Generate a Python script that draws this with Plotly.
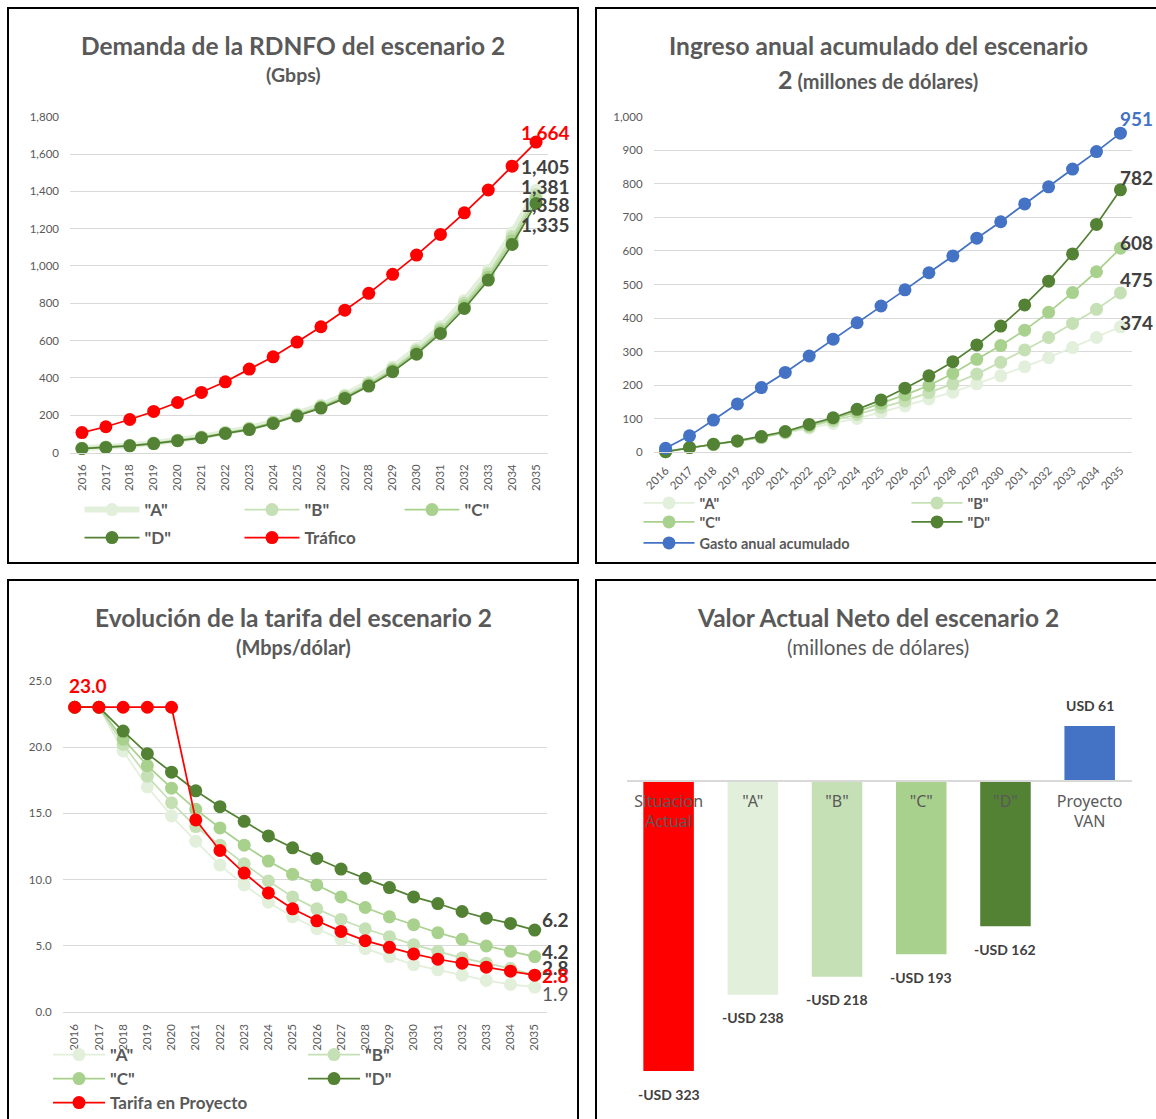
import plotly.graph_objects as go

W, H = 1156, 1119


def px(x):
    return x / W


def py(y):
    return 1 - y / H


# ---------------- data ----------------
years = [str(y) for y in range(2016, 2036)]

# Demanda de la RDNFO (Gbps)
dem_A = [23, 29, 38, 51, 66, 84, 108, 131, 165, 207, 253, 308, 377, 458, 557, 674, 815, 975, 1176, 1405]
dem_B = [22, 28, 38, 50, 65, 82, 106, 128, 162, 203, 248, 302, 370, 449, 547, 662, 801, 958, 1155, 1381]
dem_C = [22, 28, 37, 49, 64, 81, 104, 126, 159, 199, 243, 296, 363, 441, 537, 650, 786, 941, 1135, 1358]
dem_D = [21, 27, 36, 48, 63, 79, 102, 123, 156, 195, 238, 290, 356, 433, 527, 638, 772, 924, 1115, 1335]
trafico = [107, 138, 177, 220, 268, 322, 379, 447, 513, 592, 674, 763, 853, 955, 1058, 1169, 1285, 1407, 1535, 1664]

# Ingreso anual acumulado (millones de dólares)
ing_A = [2, 14, 23, 33, 44, 57, 72, 86, 101, 119, 138, 159, 179, 204, 228, 255, 282, 312, 342, 374]
ing_B = [2, 14, 23, 33, 44, 59, 76, 94, 113, 134, 153, 178, 204, 233, 268, 305, 342, 384, 426, 475]
ing_C = [2, 14, 24, 34, 45, 60, 79, 99, 121, 146, 171, 199, 235, 277, 318, 364, 417, 476, 538, 608]
ing_D = [2, 14, 24, 34, 47, 62, 83, 103, 128, 156, 191, 228, 270, 320, 376, 439, 510, 591, 679, 782]
gasto = [12, 49, 96, 144, 193, 238, 287, 337, 386, 436, 484, 535, 585, 638, 687, 740, 791, 844, 896, 951]

# Evolución de la tarifa (Mbps/dólar)
tar_A = [23.0, 23.0, 19.7, 17.0, 14.8, 12.9, 11.1, 9.6, 8.3, 7.2, 6.3, 5.5, 4.8, 4.2, 3.6, 3.2, 2.8, 2.4, 2.1, 1.9]
tar_B = [23.0, 23.0, 20.2, 17.8, 15.8, 14.0, 12.6, 11.2, 9.9, 8.7, 7.8, 7.0, 6.3, 5.7, 5.1, 4.6, 4.1, 3.7, 3.3, 2.8]
tar_C = [23.0, 23.0, 20.6, 18.6, 16.9, 15.3, 13.9, 12.6, 11.4, 10.4, 9.6, 8.7, 7.9, 7.2, 6.6, 6.0, 5.5, 5.0, 4.6, 4.2]
tar_D = [23.0, 23.0, 21.2, 19.5, 18.1, 16.7, 15.5, 14.4, 13.3, 12.4, 11.6, 10.8, 10.1, 9.4, 8.7, 8.2, 7.6, 7.1, 6.7, 6.2]
tarifa = [23.0, 23.0, 23.0, 23.0, 23.0, 14.5, 12.2, 10.5, 9.0, 7.8, 6.9, 6.1, 5.4, 4.9, 4.4, 4.0, 3.7, 3.4, 3.1, 2.8]

# Valor Actual Neto (millones de dólares)
van_cats = ["Situacion<br>Actual", '"A"', '"B"', '"C"', '"D"', "Proyecto<br>VAN"]
van_vals = [-323, -238, -218, -193, -162, 61]

# ---------------- styles ----------------
FONT = "Lato"
GREY = "#595959"
DARK = "#404040"
GRID = "#D9D9D9"
C_A, C_B, C_C, C_D = "#E2EFDA", "#C5E0B4", "#A9D18E", "#548235"
RED, BLUE = "#FF0000", "#4472C4"
MS = 13
LW = 1.75

fig = go.Figure()


def line(x, y, name, color, xa, ya, legend, width=LW, mcolor=None):
    fig.add_trace(go.Scatter(
        x=x, y=y, name=name, mode="lines+markers",
        line=dict(color=color, width=width),
        marker=dict(size=MS, color=mcolor or color),
        xaxis=xa, yaxis=ya, legend=legend, cliponaxis=False,
        hoverinfo="x+y+name",
    ))


# Panel 1 — demanda
line(years, dem_A, '"A"', C_A, "x", "y", "legend", width=6, mcolor=C_A)
line(years, dem_B, '"B"', C_B, "x", "y", "legend")
line(years, dem_C, '"C"', C_C, "x", "y", "legend")
line(years, dem_D, '"D"', C_D, "x", "y", "legend2")
line(years, trafico, "Tráfico", RED, "x", "y", "legend2")

# Panel 2 — ingreso
line(years, ing_A, '"A"', C_A, "x2", "y2", "legend3")
line(years, ing_B, '"B"', C_B, "x2", "y2", "legend3")
line(years, ing_C, '"C"', C_C, "x2", "y2", "legend4")
line(years, ing_D, '"D"', C_D, "x2", "y2", "legend4")
line(years, gasto, "Gasto anual acumulado", BLUE, "x2", "y2", "legend5")

# Panel 3 — tarifa
line(years, tar_A, '"A"', C_A, "x3", "y3", "legend6")
line(years, tar_B, '"B"', C_B, "x3", "y3", "legend6")
line(years, tar_C, '"C"', C_C, "x3", "y3", "legend7")
line(years, tar_D, '"D"', C_D, "x3", "y3", "legend7")
line(years, tarifa, "Tarifa en Proyecto", RED, "x3", "y3", "legend8")

# Panel 4 — VAN bars
fig.add_trace(go.Bar(
    x=van_cats, y=van_vals, width=0.6,
    marker=dict(color=[RED, C_A, C_B, C_C, C_D, BLUE], line=dict(width=0)),
    xaxis="x4", yaxis="y4", showlegend=False,
    hoverinfo="x+y",
))

# ---------------- axes ----------------
tickfont = dict(family=FONT, size=11.5, color=GREY)


def cat_x(domain, angle):
    return dict(
        domain=domain, type="category", range=[-0.5, 19.5],
        showgrid=False, showline=True, linecolor=GRID, linewidth=1.3,
        ticks="", tickangle=angle, tickfont=tickfont, ticklabelstandoff=6,
        zeroline=False, fixedrange=True,
    )


def val_y(domain, rng, dtick, fmt):
    return dict(
        domain=domain, range=rng, dtick=dtick, tickformat=fmt,
        showgrid=True, gridcolor=GRID, gridwidth=1.3, zeroline=False,
        showline=False, ticks="", tickfont=tickfont, ticklabelstandoff=10,
        fixedrange=True,
    )


fig.update_layout(
    xaxis=dict(cat_x([px(70), px(548)], -90), anchor="y"),
    yaxis=dict(val_y([py(452.5), py(116.7)], [0, 1800], 200, ","), anchor="x"),
    xaxis2=dict(cat_x([px(653.6), px(1132.4)], -45), anchor="y2"),
    yaxis2=dict(val_y([py(452.3), py(116.7)], [0, 1000], 100, ","), anchor="x2"),
    xaxis3=dict(cat_x([px(62.6), px(546.8)], -90), anchor="y3"),
    yaxis3=dict(val_y([py(1012.3), py(680.7)], [0, 25], 5, ".1f"), anchor="x3"),
    xaxis4=dict(
        domain=[px(626.5), px(1131.8)], type="category", anchor="free",
        position=py(780.7), showgrid=False, showline=True, linecolor=GRID,
        linewidth=1.5, ticks="", ticklabelstandoff=6,
        tickfont=dict(family="Noto Sans", size=16, color=GREY), fixedrange=True,
    ),
    yaxis4=dict(
        domain=[py(1100), py(700)], range=[-355.2, 89.8], visible=False,
        showgrid=False, zeroline=False, anchor="x4", fixedrange=True,
    ),
)

# ---------------- legends ----------------
def legend_at(x_left, y_mid, size, itemwidth, entrywidth):
    return dict(
        orientation="h", x=px(x_left), y=py(y_mid), xanchor="left", yanchor="middle",
        bgcolor="rgba(0,0,0,0)", itemwidth=itemwidth, entrywidth=entrywidth,
        entrywidthmode="pixels",
        font=dict(family=FONT, size=size, color=GREY, weight="bold"),
        itemclick=False, itemdoubleclick=False,
    )


fig.update_layout(
    legend=legend_at(79.5, 510, 17, 55, 90),
    legend2=legend_at(79.5, 538, 17, 55, 90),
    legend3=legend_at(638.5, 503, 14.5, 51, 202),
    legend4=legend_at(638.5, 522, 14.5, 51, 202),
    legend5=legend_at(638.5, 543, 14.5, 51, 202),
    legend6=legend_at(48, 1055, 17, 52, 188),
    legend7=legend_at(48, 1079, 17, 52, 188),
    legend8=legend_at(48, 1103, 17, 52, 188),
)

# ---------------- titles ----------------
annotations = []


def title(text, x, y, size, bold=True):
    annotations.append(dict(
        text=text, x=px(x), y=py(y), xref="paper", yref="paper",
        xanchor="center", yanchor="middle", showarrow=False,
        font=dict(family=FONT, size=size, color=GREY, weight="bold" if bold else "normal"),
    ))


title("Demanda de la RDNFO del escenario 2", 293, 45, 24.5)
title("(Gbps)", 293, 74, 19.5)
title("Ingreso anual acumulado del escenario", 878, 45, 24.5)
title('<span style="font-size:25px">2</span> (millones de dólares)', 878, 79, 20)
title("Evolución de la tarifa del escenario 2", 293, 617, 24.5)
title("(Mbps/dólar)", 293, 647, 20)
title("Valor Actual Neto del escenario 2", 878, 617, 24.5)
title("(millones de dólares)", 878, 647, 20.5, bold=False)


# ---------------- end-of-series value labels ----------------
def end_label(xa, ya, series, fmt, color, dx, dy, size=19, bold=True, idx=-1):
    i = idx % len(series)
    annotations.append(dict(
        x=i, y=series[i], xref=xa, yref=ya, text=format(series[i], fmt),
        showarrow=False, xanchor="center", yanchor="middle", xshift=dx, yshift=dy,
        font=dict(family=FONT, size=size, color=color, weight="bold" if bold else "normal"),
    ))


end_label("x", "y", trafico, ",.0f", RED, 9, 10)
end_label("x", "y", dem_A, ",.0f", DARK, 9, 24)
end_label("x", "y", dem_B, ",.0f", DARK, 9, 8)
end_label("x", "y", dem_C, ",.0f", DARK, 9, -5)
end_label("x", "y", dem_D, ",.0f", DARK, 9, -21)

end_label("x2", "y2", gasto, ",.0f", BLUE, 16, 15)
end_label("x2", "y2", ing_D, ",.0f", DARK, 16, 12)
end_label("x2", "y2", ing_C, ",.0f", DARK, 16, 6)
end_label("x2", "y2", ing_B, ",.0f", DARK, 16, 13)
end_label("x2", "y2", ing_A, ",.0f", DARK, 16, 4)

end_label("x3", "y3", tarifa, ".1f", RED, 13, 22, idx=0)
end_label("x3", "y3", tar_D, ".1f", DARK, 21, 11)
end_label("x3", "y3", tar_C, ".1f", DARK, 21, 5)
end_label("x3", "y3", tar_B, ".1f", DARK, 21, 8)
end_label("x3", "y3", tarifa, ".1f", RED, 21, 0)
end_label("x3", "y3", tar_A, ".1f", GREY, 21, -6, bold=False)

# ---------------- bar value labels ----------------
for cat, v in zip(van_cats, van_vals):
    annotations.append(dict(
        x=cat, y=v, xref="x4", yref="y4",
        text=("-" if v < 0 else "") + f"USD {abs(v)}",
        showarrow=False, xanchor="center", yanchor="middle",
        yshift=-23 if v < 0 else 20,
        font=dict(family=FONT, size=14, color=DARK, weight="bold"),
    ))

# ---------------- panel frames ----------------
shapes = []
for x0, y0, x1, y1 in [(8, 8, 578, 563), (596, 8, 1170, 563),
                       (8, 580, 578, 1130), (596, 580, 1170, 1130)]:
    shapes.append(dict(
        type="rect", xref="paper", yref="paper",
        x0=px(x0), x1=px(x1), y0=py(y1), y1=py(y0),
        line=dict(color="#000000", width=2), fillcolor="rgba(0,0,0,0)", layer="above",
    ))

fig.update_layout(
    width=W, height=H, margin=dict(l=0, r=0, t=0, b=0, autoexpand=False),
    paper_bgcolor="white", plot_bgcolor="white",
    annotations=annotations, shapes=shapes,
    font=dict(family=FONT, color=GREY),
    hovermode="closest",
)

fig.write_html("out.html", config={"displayModeBar": False})
